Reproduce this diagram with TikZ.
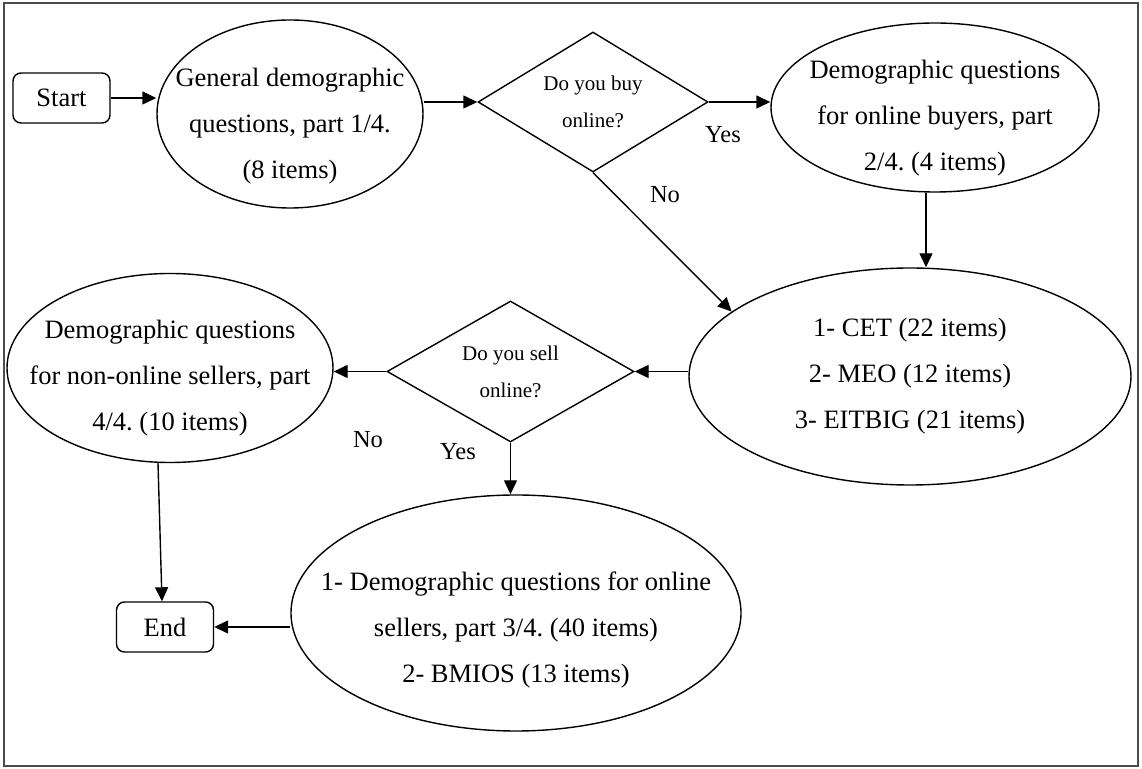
\documentclass[tikz,border=0pt]{standalone}
\usepackage{fontspec}
\setmainfont{Liberation Serif}
\usetikzlibrary{arrows.meta,shapes.geometric,calc}
\newcommand{\padtop}[1]{\rule{0pt}{#1}}
\frenchspacing

\begin{document}
\begin{tikzpicture}[x=0.5pt,y=-0.5pt,line width=0.7pt,
   font=\fontsize{13.25}{23}\selectfont,
   term/.style={draw,rounded corners=4pt,minimum width=48.5pt,minimum height=25pt,inner sep=0pt},
   qset/.style={draw,ellipse,align=center,inner sep=-30pt},
   ask/.style={draw,diamond,shape aspect=1.7,align=center,inner sep=0pt,
               font=\fontsize{10.5}{18.5}\selectfont},
   lab/.style={font=\fontsize{12.25}{14}\selectfont},
   arr/.style={-{Triangle[length=7pt,width=6.5pt]}}]
  \useasboundingbox (0,0) rectangle (1142,769);
  \draw[black!70,line width=0.8pt] (4,3) rectangle (1138,766);

  % top row
  \node[term] (start) at (61.5,98) {Start};
  \node[qset,minimum width=133pt,minimum height=94pt] (gen) at (290,114)
       {\padtop{21pt}General demographic\\questions, part 1/4.\\(8 items)};
  \node[ask,minimum width=115pt,minimum height=70pt] (buy) at (593,102) {Do you buy\\online?};
  \node[qset,minimum width=164pt,minimum height=84.5pt] (buyer) at (935,107.5)
       {\padtop{19.5pt}Demographic questions\\for online buyers, part\\2/4. (4 items)};

  % middle row
  \node[qset,minimum width=221pt,minimum height=108.5pt] (scales) at (910,376.5)
       {1- CET (22 items)\\2- MEO (12 items)\\3- EITBIG (21 items)};
  \node[ask,minimum width=123.5pt,minimum height=70.5pt] (sell) at (510.5,371.5) {Do you sell\\online?};
  \node[qset,minimum width=163pt,minimum height=94.5pt] (nonseller) at (170,368)
       {\padtop{19.5pt}Demographic questions\\for non-online sellers, part\\4/4. (10 items)};

  % bottom row
  \node[qset,minimum width=225pt,minimum height=118pt] (seller) at (516,613)
       {\padtop{26pt}1- Demographic questions for online\\sellers, part 3/4. (40 items)\\2- BMIOS (13 items)};
  \node[term] (end) at (165,627) {End};

  % answers
  \node[lab] (yes1) at (723,135) {Yes};
  \node[lab] (no1) at (665,195) {No};
  \node[lab] (no2) at (368,440) {No};
  \node[lab] (yes2) at (458,452) {Yes};

  % flow
  \coordinate (buyerdrop) at ($(buyer.south)+(-9,0)$);
  \draw[arr] (start.east) -- (start.east -| gen.west);
  \draw[arr] (buy.west -| gen.east) -- (buy.west);
  \draw[arr] (buy.east) -- (buy.east -| buyer.west);
  \draw[arr] (buyerdrop) -- (buyerdrop |- scales.north);
  \draw[arr] (buy.south) -- (scales.160);
  \draw[arr] (scales.west |- sell.east) -- (sell.east);
  \draw[arr] (sell.west) -- (sell.west -| nonseller.east);
  \draw[arr] (sell.south) -- (sell.south |- seller.north);
  \draw[arr] ($(nonseller.south)+(-12,0)$) -- ($(end.north)+(-3,0)$);
  \draw[arr] (end.east -| seller.west) -- (end.east);
\end{tikzpicture}
\end{document}
